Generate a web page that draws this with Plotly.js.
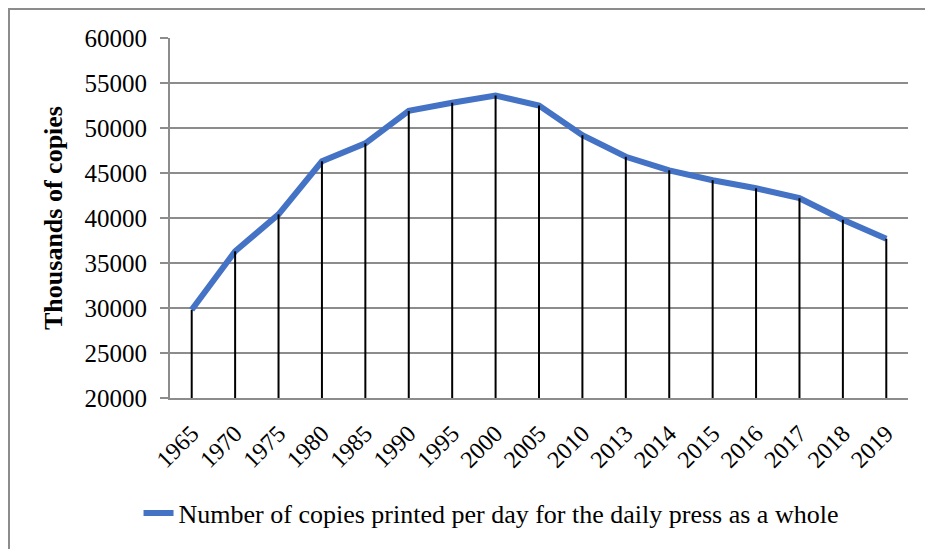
<!DOCTYPE html>
<html>
<head>
<meta charset="utf-8">
<script src="https://cdn.plot.ly/plotly-3.0.1.min.js"></script>
<style>
  html, body { margin: 0; padding: 0; background: #fff; overflow: hidden; }
  #wrap { position: relative; width: 925px; height: 549px; overflow: hidden; }
  #chart { width: 925px; height: 549px; }
  #frame { position: absolute; left: 8px; top: 8px; right: -10px; bottom: -10px;
           border-left: 2px solid #8c8c8c; border-top: 2px solid #8c8c8c; pointer-events: none; }
</style>
</head>
<body>
<div id="wrap">
  <div id="chart"></div>
  <div id="frame"></div>
</div>
<script>
const years = ['1965','1970','1975','1980','1985','1990','1995','2000','2005','2010','2013','2014','2015','2016','2017','2018','2019'];
const copies = [29800, 36300, 40400, 46300, 48300, 51900, 52800, 53600, 52500, 49200, 46800, 45300, 44200, 43300, 42200, 39800, 37700];
const yTicks = [20000, 25000, 30000, 35000, 40000, 45000, 50000, 55000, 60000];
const seriesName = 'Number of copies printed per day for the daily press as a whole';
const yTitle = 'Thousands of copies';

const yMin = yTicks[0];
const yMax = yTicks[yTicks.length - 1];

const serif = 'Liberation Serif';

const lineTrace = {
  x: years, y: copies, type: 'scatter', mode: 'lines',
  name: seriesName,
  line: { color: '#4472C4', width: 6 },
  hoverinfo: 'x+y'
};

const dropTrace = {
  x: years, y: copies, type: 'scatter', mode: 'markers',
  marker: { size: 1, opacity: 0 },
  showlegend: false, hoverinfo: 'skip',
  error_y: {
    type: 'data', symmetric: false,
    array: copies.map(() => 0),
    arrayminus: copies.map(v => v - yMin),
    width: 0, thickness: 2, color: '#000000'
  }
};

const layout = {
  width: 925, height: 549,
  margin: { l: 170, r: 17, t: 38, b: 151 },
  paper_bgcolor: '#ffffff', plot_bgcolor: '#ffffff',
  font: { family: serif, size: 24, color: '#000000' },
  showlegend: true,
  legend: {
    orientation: 'h', x: 0.435, xanchor: 'center', y: -0.32, yanchor: 'middle',
    font: { family: serif, size: 26, color: '#000000' },
    bgcolor: 'rgba(0,0,0,0)'
  },
  xaxis: {
    type: 'category', range: [-0.5, years.length - 0.5],
    showgrid: false, zeroline: false,
    showline: true, linecolor: '#8c8c8c', linewidth: 2,
    ticks: '', tickangle: -45, ticklabelstandoff: 10,
    tickfont: { family: serif, size: 24, color: '#000000' }
  },
  yaxis: {
    range: [yMin, yMax], tickvals: yTicks, tickformat: 'd',
    showgrid: true, gridcolor: '#8c8c8c', gridwidth: 2,
    zeroline: false,
    showline: true, linecolor: '#8c8c8c', linewidth: 2,
    ticks: 'outside', ticklen: 8, tickcolor: '#8c8c8c', tickwidth: 2,
    ticklabelstandoff: 8,
    tickfont: { family: serif, size: 25, color: '#000000' },
    title: { text: '<b>' + yTitle + '</b>', font: { family: serif, size: 26, color: '#000000' }, standoff: 14 }
  }
};

Plotly.newPlot('chart', [lineTrace, dropTrace], layout, { displayModeBar: false, staticPlot: true });
</script>
</body>
</html>
